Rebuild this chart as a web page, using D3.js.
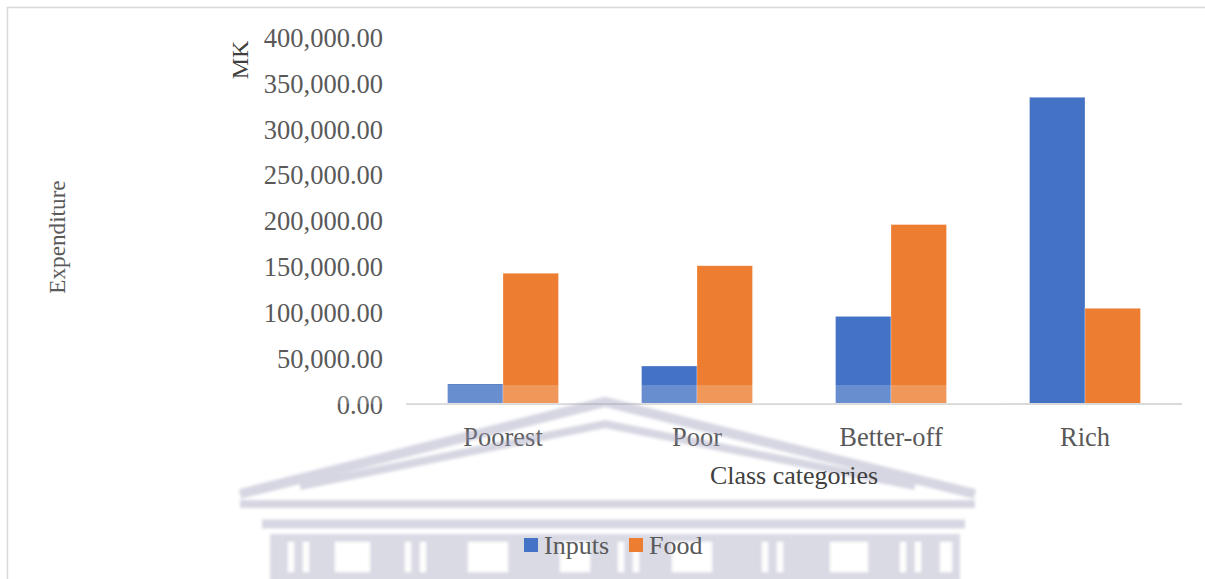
<!DOCTYPE html>
<html>
<head>
<meta charset="utf-8">
<script src="https://cdn.jsdelivr.net/npm/d3@7"></script>
<style>
  html, body { margin: 0; padding: 0; background: #ffffff; }
  svg { display: block; }
</style>
</head>
<body>
<svg id="chart" width="1205" height="579"></svg>
<script>
// Household expenditure by class category (MK)
const categories = ["Poorest", "Poor", "Better-off", "Rich"];
const seriesNames = ["Inputs", "Food"];
const inputs = [21800, 41400, 95500, 334300];
const food = [142500, 150700, 195600, 104300];
const yTicks = [0, 50000, 100000, 150000, 200000, 250000, 300000, 350000, 400000];
const colors = ["#4472C4", "#ED7D31"];

const SERIF = "'Liberation Serif', 'Times New Roman', serif";

const svg = d3.select("#chart").style("font-family", SERIF);
const W = 1205, H = 579;

// soft blur for the background emblem
const defs = svg.append("defs");
defs.append("filter").attr("id", "soft")
  .attr("x", "-5%").attr("y", "-20%").attr("width", "110%").attr("height", "140%")
  .append("feGaussianBlur").attr("stdDeviation", 1.6);

// plot area
const plot = { left: 406, right: 1182, top: 37, bottom: 404 };

const x0 = d3.scaleBand()
  .domain(categories)
  .range([plot.left, plot.right])
  .paddingInner(0.428)
  .paddingOuter(0.214);

const x1 = d3.scaleBand()
  .domain(seriesNames)
  .range([0, x0.bandwidth()])
  .padding(0);

const y = d3.scaleLinear()
  .domain([0, 400000])
  .range([plot.bottom, plot.top]);

const color = d3.scaleOrdinal().domain(seriesNames).range(colors);

// chart frame
svg.append("rect")
  .attr("x", 7.5).attr("y", 7.5)
  .attr("width", W + 10).attr("height", H + 10)
  .attr("fill", "#ffffff")
  .attr("stroke", "#d9d9d9")
  .attr("stroke-width", 1.5);

// bars
const rows = categories.map((c, i) => ({ category: c, values: [inputs[i], food[i]] }));

const groups = svg.append("g").selectAll("g")
  .data(rows)
  .join("g")
  .attr("transform", d => `translate(${x0(d.category)},0)`);

groups.selectAll("rect")
  .data(d => d.values.map((v, j) => ({ key: seriesNames[j], value: v })))
  .join("rect")
  .attr("x", d => x1(d.key))
  .attr("y", d => y(d.value))
  .attr("width", x1.bandwidth())
  .attr("height", d => y(0) - y(d.value))
  .attr("fill", d => color(d.key))
  .attr("stroke", "#ffffff")
  .attr("stroke-opacity", 0.35)
  .attr("stroke-width", 0.75);

// category axis
const xAxis = svg.append("g")
  .attr("transform", `translate(0,${plot.bottom})`)
  .call(d3.axisBottom(x0).tickSize(0).tickPadding(0));
xAxis.attr("font-family", null).attr("font-size", null);
xAxis.select(".domain")
  .attr("d", `M${plot.left},0H${plot.right}`)
  .attr("stroke", "#d9d9d9")
  .attr("stroke-width", 2);
xAxis.selectAll(".tick text")
  .attr("y", 33)
  .attr("dy", "0.35em")
  .attr("fill", "#595959")
  .style("font-size", "26.5px")
  .style("font-family", SERIF);

// value axis
const yAxis = svg.append("g")
  .attr("transform", `translate(383,0)`)
  .call(d3.axisLeft(y).tickValues(yTicks).tickSize(0).tickPadding(0)
    .tickFormat(d3.format(",.2f")));
yAxis.attr("font-family", null).attr("font-size", null);
yAxis.select(".domain").remove();
yAxis.selectAll(".tick text")
  .attr("fill", "#595959")
  .attr("dy", "0.35em")
  .style("font-size", "26.5px")
  .style("font-family", SERIF);

// white haze band of the emblem over the lower bars
svg.append("rect")
  .attr("x", 213).attr("y", 385)
  .attr("width", 794).attr("height", 19)
  .attr("fill", "#ffffff")
  .attr("opacity", 0.2);

// background emblem: faint building outline
const wm = svg.append("g")
  .attr("fill", "none")
  .attr("stroke", "#9a9ab8")
  .attr("opacity", 0.4)
  .attr("filter", "url(#soft)");

wm.append("path")
  .attr("d", "M240,494 L605,402 L975,494")
  .attr("stroke-width", 10);
wm.append("path")
  .attr("d", "M300,486 L605,424 L915,486")
  .attr("stroke-width", 8);
wm.append("path")
  .attr("d", "M240,504 H975")
  .attr("stroke-width", 8);
wm.append("path")
  .attr("d", "M262,524 H965")
  .attr("stroke-width", 9);

// colonnade row
const colonnade = svg.append("g")
  .attr("opacity", 0.36)
  .attr("filter", "url(#soft)");
colonnade.append("rect")
  .attr("x", 270).attr("y", 534).attr("width", 690).attr("height", 50)
  .attr("fill", "#9a9ab8");
const openings = [
  [288, 6], [303, 6], [335, 35], [405, 6], [420, 6], [468, 40],
  [560, 30], [618, 6], [633, 6], [672, 40], [762, 6], [777, 6],
  [830, 38], [900, 6], [915, 6], [940, 12]
];
colonnade.selectAll("rect.open")
  .data(openings)
  .join("rect")
  .attr("class", "open")
  .attr("x", d => d[0]).attr("y", 542)
  .attr("width", d => d[1]).attr("height", 30)
  .attr("fill", "#ffffff");

// axis titles
svg.append("text")
  .attr("x", 794).attr("y", 475)
  .attr("dy", "0.35em")
  .attr("text-anchor", "middle")
  .attr("fill", "#404040")
  .style("font-family", SERIF)
  .style("font-size", "26px")
  .text("Class categories");

svg.append("text")
  .attr("transform", "translate(57,237) rotate(-90)")
  .attr("dy", "0.35em")
  .attr("text-anchor", "middle")
  .attr("fill", "#595959")
  .style("font-family", SERIF)
  .style("font-size", "23.2px")
  .text("Expenditure");

svg.append("text")
  .attr("transform", "translate(240,60) rotate(-90)")
  .attr("dy", "0.35em")
  .attr("text-anchor", "middle")
  .attr("fill", "#404040")
  .style("font-family", SERIF)
  .style("font-size", "24px")
  .text("MK");

// legend
const legendPos = [524, 629];
const legend = svg.append("g").selectAll("g")
  .data(seriesNames)
  .join("g")
  .attr("transform", (d, i) => `translate(${legendPos[i]},538)`);
legend.append("rect")
  .attr("width", 14).attr("height", 14)
  .attr("fill", d => color(d));
legend.append("text")
  .attr("x", 20).attr("y", 7)
  .attr("dy", "0.35em")
  .attr("fill", "#595959")
  .style("font-family", SERIF)
  .style("font-size", "26px")
  .text(d => d);
</script>
</body>
</html>
